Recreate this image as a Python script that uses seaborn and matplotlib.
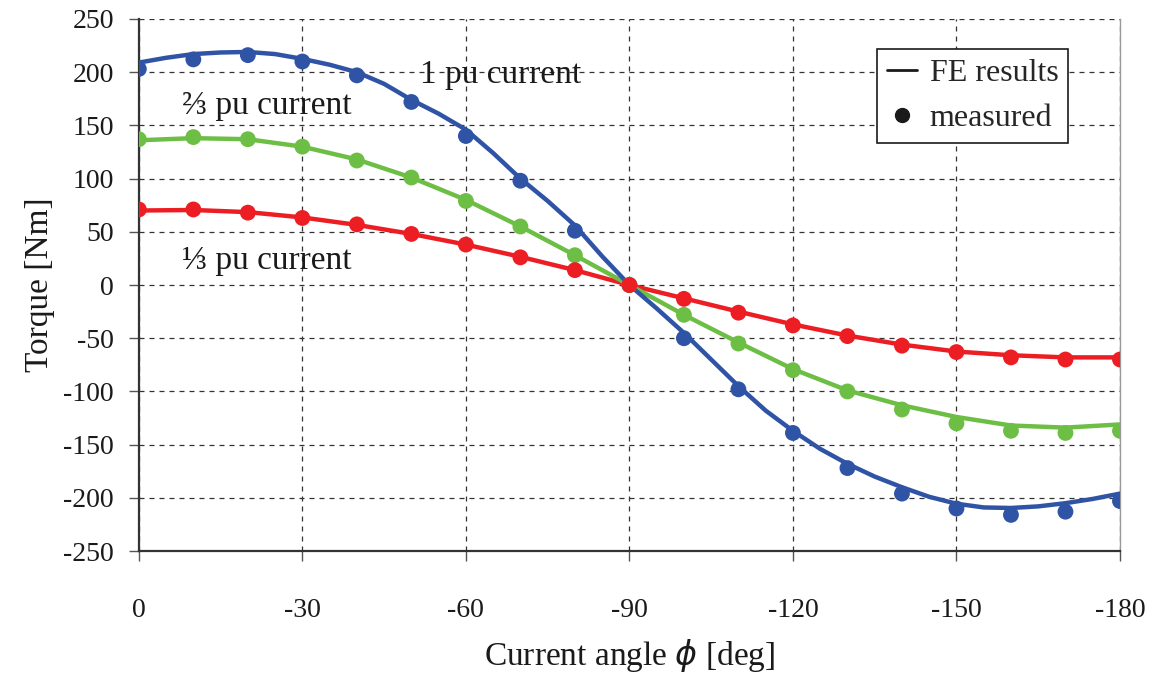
import numpy as np
import pandas as pd
import matplotlib
matplotlib.use("Agg")
import matplotlib.pyplot as plt
from matplotlib.lines import Line2D
import seaborn as sns

# Current angle in degrees for the measurements (0 .. -180, every 10 deg)
angle = [0, -10, -20, -30, -40, -50, -60, -70, -80, -90,
         -100, -110, -120, -130, -140, -150, -160, -170, -180]

# FE angle grid for the 1 pu case (finer, every 5 deg)
fe_angle_fine = [0, -5, -10, -15, -20, -25, -30, -35, -40, -45, -50, -55,
                 -60, -65, -70, -75, -80, -85, -90, -95, -100, -105, -110,
                 -115, -120, -125, -130, -135, -140, -145, -150, -155, -160,
                 -165, -170, -175, -180]

# FE computed torque [Nm]
fe_1pu = [209, 213.5, 217, 218.5, 219, 217, 212.5, 207, 200, 189, 174, 161,
          146, 124, 100, 79, 56, 27, 0, -22, -45, -70, -95,
          -118, -137, -154, -168, -180, -190, -199, -205.5, -209, -209.5,
          -208, -205, -201, -196]
fe_2_3pu = [136, 138, 137, 130, 118, 101, 80, 55, 28, 0,
            -28, -54, -79, -99, -113, -124, -132, -134, -131]
fe_1_3pu = [70, 70.5, 68.5, 63.5, 56.5, 48, 38, 26.5, 14, 0,
            -12.5, -25, -37, -47.5, -56, -62.5, -66, -68, -68]

# Measured torque [Nm]
meas_1pu = [203, 212, 216, 210, 197, 172, 140, 98, 51, 0,
            -50, -98, -139, -172, -196, -210, -216, -213, -203]
meas_2_3pu = [137, 139, 137, 130, 117, 101, 79, 55, 28, 0,
              -28, -55, -80, -100, -117, -130, -137, -139, -137]
meas_1_3pu = [71, 71, 68, 63, 57, 48, 38, 26, 14, 0,
              -13, -26, -38, -48, -57, -63, -68, -70, -70]

series_names = ["1 pu", "2/3 pu", "1/3 pu"]
colors = {"1 pu": "#2F54A6", "2/3 pu": "#6DBE45", "1/3 pu": "#EC1E24"}

fe = pd.DataFrame({
    "angle": fe_angle_fine + angle + angle,
    "torque": fe_1pu + fe_2_3pu + fe_1_3pu,
    "current": (["1 pu"] * len(fe_angle_fine) + ["2/3 pu"] * len(angle)
                + ["1/3 pu"] * len(angle)),
})
meas = pd.DataFrame({
    "angle": angle * 3,
    "torque": meas_1pu + meas_2_3pu + meas_1_3pu,
    "current": sum([[n] * len(angle) for n in series_names], []),
})

sns.set_theme(style="white")
serif = ["Liberation Serif", "DejaVu Serif"]
plt.rcParams["font.family"] = serif
plt.rcParams["axes.unicode_minus"] = False

fig = plt.figure(figsize=(11.57, 6.77), dpi=100)
ax = fig.add_axes([0.120, 0.186, 0.848, 0.786])

sns.lineplot(data=fe, x="angle", y="torque", hue="current", palette=colors,
             hue_order=series_names[::-1], linewidth=3.2, legend=False,
             ax=ax, zorder=3)
sns.scatterplot(data=meas, x="angle", y="torque", hue="current", palette=colors,
                hue_order=series_names[::-1], s=130, edgecolor="none",
                legend=False, ax=ax, zorder=4)

ax.set_xlim(0, -180)
ax.set_ylim(-250, 250)
ax.set_xticks([0, -30, -60, -90, -120, -150, -180])
ax.set_xticklabels(["0", "-30", "-60", "-90", "-120", "-150", "-180"])
ax.set_yticks(np.arange(-250, 251, 50))

ax.grid(True, color="#333333", linestyle=(0, (4, 4)), linewidth=0.9, zorder=0)
ax.set_axisbelow(True)

ax.spines["top"].set_visible(False)
ax.spines["right"].set_color("#9a9a9a")
ax.spines["right"].set_linewidth(1.0)
for side in ("left", "bottom"):
    ax.spines[side].set_color("#333333")
    ax.spines[side].set_linewidth(1.6)

ax.tick_params(axis="both", which="major", direction="out", length=7,
               width=1.0, color="#555555", labelsize=20, labelcolor="#1a1a1a")
ax.tick_params(axis="x", pad=27)
ax.tick_params(axis="y", pad=11)
ax.xaxis.set_ticks_position("bottom")
ax.yaxis.set_ticks_position("left")

ax.set_xlabel("Current angle $\\phi$ [deg]", fontsize=24, color="#1a1a1a", labelpad=10)
ax.set_ylabel("Torque [Nm]", fontsize=24, color="#1a1a1a", labelpad=6)

ax.text(-51.5, 198, "1 pu current", fontsize=24, color="#1a1a1a", va="center",
        family=serif, zorder=5)
ax.text(-8, 168, "\u2154 pu current", fontsize=24, color="#1a1a1a", va="center",
        family=serif, zorder=5)
ax.text(-8, 23, "\u2153 pu current", fontsize=24, color="#1a1a1a", va="center",
        family=serif, zorder=5)

handles = [
    Line2D([], [], color="#1a1a1a", linewidth=2),
    Line2D([], [], color="#1a1a1a", linestyle="none", marker="o", markersize=10),
]
leg = ax.legend(handles, ["FE results", "measured"], loc="upper right",
                bbox_to_anchor=(0.947, 0.944), fontsize=23, frameon=True,
                fancybox=False, handlelength=0.95, handletextpad=0.4,
                borderpad=0.3, labelspacing=0.5, borderaxespad=0)
leg.get_frame().set_edgecolor("#1a1a1a")
leg.get_frame().set_linewidth(1.2)
leg.get_frame().set_facecolor("white")
leg.get_frame().set_alpha(1)
leg.set_zorder(6)

fig.savefig("out.png", dpi=100)
